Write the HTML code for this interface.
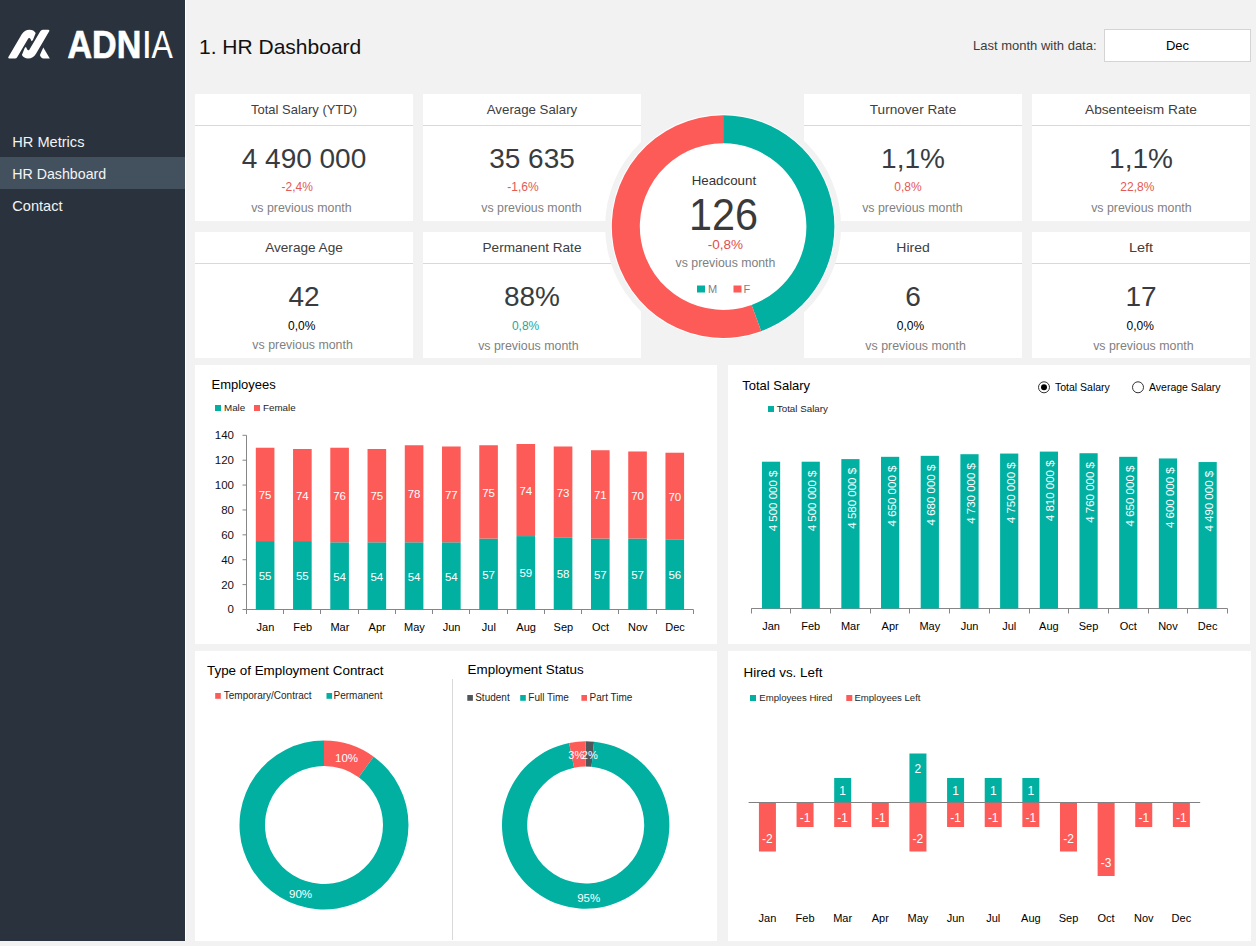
<!DOCTYPE html>
<html><head><meta charset="utf-8"><title>HR Dashboard</title>
<style>
html,body{margin:0;padding:0;background:#f2f2f2;}
body{width:1256px;height:946px;overflow:hidden;}
svg{display:block;font-family:'Liberation Sans', Arial, sans-serif;}
</style></head>
<body>
<svg width="1256" height="946" viewBox="0 0 1256 946">
<rect x="0.00" y="0.00" width="1256.00" height="946.00" fill="#f2f2f2" />
<rect x="0.00" y="0.00" width="185.00" height="941.00" fill="#2a333d" />
<rect x="185.00" y="0.00" width="1.00" height="941.00" fill="#ffffff" />
<rect x="0.00" y="157.00" width="185.00" height="32.00" fill="#43515f" />
<text x="12.30" y="146.80" font-size="14.6" fill="#f4f4f4" text-anchor="start" >HR Metrics</text>
<text x="12.30" y="179.20" font-size="14.2" fill="#f4f4f4" text-anchor="start" >HR Dashboard</text>
<text x="12.30" y="210.90" font-size="14.6" fill="#f4f4f4" text-anchor="start" >Contact</text>
<g fill="#ffffff"><path d="M9.2,58.5 Q7.6,58.4 8.4,57.0 L21.6,34.4 Q24.4,29.7 29.5,29.7 Q33.8,29.7 35.7,33.1 L33.1,39.6 Q32.7,41.0 31.6,41.2 L30.5,38.9 Q29.7,37.4 28.4,38.2 L17.3,57.0 Q16.5,58.5 14.8,58.5 Z"/><path d="M9.2,58.5 Q7.6,58.4 8.4,57.0 L21.6,34.4 Q24.4,29.7 29.5,29.7 Q33.8,29.7 35.7,33.1 L33.1,39.6 Q32.7,41.0 31.6,41.2 L30.5,38.9 Q29.7,37.4 28.4,38.2 L17.3,57.0 Q16.5,58.5 14.8,58.5 Z" transform="rotate(180 28.8 44.1)"/><path d="M43.3,47.6 L49.8,58.5 L43.6,58.5 Q40.9,58.3 39.9,55.0 Z"/></g>
<text x="0" y="0" font-size="38.5" fill="#ffffff" stroke="#ffffff" stroke-width="0.7" font-weight="bold" transform="translate(67.5,58) scale(0.885,1)">ADN</text>
<text x="0" y="0" font-size="38.5" fill="#ffffff" transform="translate(141.5,58)">I</text>
<text x="0" y="0" font-size="38.5" fill="#ffffff" transform="translate(151.5,58) scale(0.83,1)">A</text>
<text x="199.00" y="53.70" font-size="21" fill="#111111" text-anchor="start" >1. HR Dashboard</text>
<text x="973.00" y="50.00" font-size="13" fill="#3c3c3c" text-anchor="start" >Last month with data:</text>
<rect x="1104.50" y="29.50" width="146.00" height="32.00" fill="#ffffff" stroke="#d4d4d4" stroke-width="1"/>
<text x="1177.50" y="50.00" font-size="13" fill="#000000" text-anchor="middle" >Dec</text>
<rect x="195.00" y="94.00" width="218.00" height="127.00" fill="#ffffff" />
<line x1="195.00" y1="125.50" x2="413.00" y2="125.50" stroke="#d9d9d9" stroke-width="1"/>
<text x="304.00" y="114.00" font-size="13" fill="#404040" text-anchor="middle" textLength="106" lengthAdjust="spacingAndGlyphs" >Total Salary (YTD)</text>
<text x="304.00" y="167.80" font-size="28" fill="#383c40" text-anchor="middle" >4 490 000</text>
<text x="297.30" y="190.90" font-size="12" fill="#e35955" text-anchor="middle" >-2,4%</text>
<text x="301.40" y="212.30" font-size="12" fill="#7f7f7f" text-anchor="middle" textLength="100.5" lengthAdjust="spacingAndGlyphs" >vs previous month</text>
<rect x="423.00" y="94.00" width="218.00" height="127.00" fill="#ffffff" />
<line x1="423.00" y1="125.50" x2="641.00" y2="125.50" stroke="#d9d9d9" stroke-width="1"/>
<text x="532.00" y="114.00" font-size="13" fill="#404040" text-anchor="middle" textLength="90.5" lengthAdjust="spacingAndGlyphs" >Average Salary</text>
<text x="532.00" y="167.80" font-size="28" fill="#383c40" text-anchor="middle" >35 635</text>
<text x="523.00" y="190.90" font-size="12" fill="#e35955" text-anchor="middle" >-1,6%</text>
<text x="531.50" y="212.30" font-size="12" fill="#7f7f7f" text-anchor="middle" textLength="100.5" lengthAdjust="spacingAndGlyphs" >vs previous month</text>
<rect x="804.00" y="94.00" width="218.00" height="127.00" fill="#ffffff" />
<line x1="804.00" y1="125.50" x2="1022.00" y2="125.50" stroke="#d9d9d9" stroke-width="1"/>
<text x="913.00" y="114.00" font-size="13" fill="#404040" text-anchor="middle" textLength="86.4" lengthAdjust="spacingAndGlyphs" >Turnover Rate</text>
<text x="913.00" y="167.80" font-size="28" fill="#383c40" text-anchor="middle" >1,1%</text>
<text x="908.00" y="190.90" font-size="12" fill="#e35955" text-anchor="middle" >0,8%</text>
<text x="912.40" y="212.30" font-size="12" fill="#7f7f7f" text-anchor="middle" textLength="100.5" lengthAdjust="spacingAndGlyphs" >vs previous month</text>
<rect x="1032.00" y="94.00" width="218.00" height="127.00" fill="#ffffff" />
<line x1="1032.00" y1="125.50" x2="1250.00" y2="125.50" stroke="#d9d9d9" stroke-width="1"/>
<text x="1141.00" y="114.00" font-size="13" fill="#404040" text-anchor="middle" textLength="112" lengthAdjust="spacingAndGlyphs" >Absenteeism Rate</text>
<text x="1141.00" y="167.80" font-size="28" fill="#383c40" text-anchor="middle" >1,1%</text>
<text x="1137.30" y="190.90" font-size="12" fill="#e35955" text-anchor="middle" >22,8%</text>
<text x="1141.40" y="212.30" font-size="12" fill="#7f7f7f" text-anchor="middle" textLength="100.5" lengthAdjust="spacingAndGlyphs" >vs previous month</text>
<rect x="195.00" y="232.00" width="218.00" height="126.00" fill="#ffffff" />
<line x1="195.00" y1="263.50" x2="413.00" y2="263.50" stroke="#d9d9d9" stroke-width="1"/>
<text x="304.00" y="252.00" font-size="13" fill="#404040" text-anchor="middle" textLength="77.6" lengthAdjust="spacingAndGlyphs" >Average Age</text>
<text x="304.00" y="305.80" font-size="28" fill="#383c40" text-anchor="middle" >42</text>
<text x="301.70" y="330.00" font-size="12" fill="#000000" text-anchor="middle" >0,0%</text>
<text x="302.60" y="349.30" font-size="12" fill="#7f7f7f" text-anchor="middle" textLength="100.5" lengthAdjust="spacingAndGlyphs" >vs previous month</text>
<rect x="423.00" y="232.00" width="218.00" height="126.00" fill="#ffffff" />
<line x1="423.00" y1="263.50" x2="641.00" y2="263.50" stroke="#d9d9d9" stroke-width="1"/>
<text x="532.00" y="252.00" font-size="13" fill="#404040" text-anchor="middle" textLength="98.9" lengthAdjust="spacingAndGlyphs" >Permanent Rate</text>
<text x="532.00" y="305.80" font-size="28" fill="#383c40" text-anchor="middle" >88%</text>
<text x="525.60" y="330.00" font-size="12" fill="#1aa99b" text-anchor="middle" >0,8%</text>
<text x="528.40" y="350.30" font-size="12" fill="#7f7f7f" text-anchor="middle" textLength="100.5" lengthAdjust="spacingAndGlyphs" >vs previous month</text>
<rect x="804.00" y="232.00" width="218.00" height="126.00" fill="#ffffff" />
<line x1="804.00" y1="263.50" x2="1022.00" y2="263.50" stroke="#d9d9d9" stroke-width="1"/>
<text x="913.00" y="252.00" font-size="13" fill="#404040" text-anchor="middle" textLength="33.4" lengthAdjust="spacingAndGlyphs" >Hired</text>
<text x="913.00" y="305.80" font-size="28" fill="#383c40" text-anchor="middle" >6</text>
<text x="910.40" y="330.00" font-size="12" fill="#000000" text-anchor="middle" >0,0%</text>
<text x="915.60" y="350.30" font-size="12" fill="#7f7f7f" text-anchor="middle" textLength="100.5" lengthAdjust="spacingAndGlyphs" >vs previous month</text>
<rect x="1032.00" y="232.00" width="218.00" height="126.00" fill="#ffffff" />
<line x1="1032.00" y1="263.50" x2="1250.00" y2="263.50" stroke="#d9d9d9" stroke-width="1"/>
<text x="1141.00" y="252.00" font-size="13" fill="#404040" text-anchor="middle" textLength="24.1" lengthAdjust="spacingAndGlyphs" >Left</text>
<text x="1141.00" y="305.80" font-size="28" fill="#383c40" text-anchor="middle" >17</text>
<text x="1140.30" y="330.00" font-size="12" fill="#000000" text-anchor="middle" >0,0%</text>
<text x="1143.40" y="350.30" font-size="12" fill="#7f7f7f" text-anchor="middle" textLength="100.5" lengthAdjust="spacingAndGlyphs" >vs previous month</text>
<circle cx="723.1" cy="226.6" r="118" fill="#f2f2f2"/>
<circle cx="723.1" cy="226.6" r="112.3" fill="#ffffff"/>
<path d="M723.10,115.30 A111.3,111.3 0 0 1 761.17,331.19 L751.59,304.88 A83.3,83.3 0 0 0 723.10,143.30 Z" fill="#02b0a2" stroke="none" stroke-width="1"/>
<path d="M761.17,331.19 A111.3,111.3 0 1 1 723.10,115.30 L723.10,143.30 A83.3,83.3 0 1 0 751.59,304.88 Z" fill="#fc5b57" stroke="none" stroke-width="1"/>
<text x="723.90" y="185.00" font-size="13.3" fill="#333333" text-anchor="middle" textLength="64.5" lengthAdjust="spacingAndGlyphs" >Headcount</text>
<text x="723.60" y="230.00" font-size="43.5" fill="#3a3a3a" text-anchor="middle" textLength="69" lengthAdjust="spacingAndGlyphs" >126</text>
<text x="725.50" y="248.50" font-size="13.5" fill="#e0504c" text-anchor="middle" >-0,8%</text>
<text x="725.50" y="267.00" font-size="12.3" fill="#7f7f7f" text-anchor="middle" >vs previous month</text>
<rect x="697.00" y="285.50" width="8.00" height="7.00" fill="#02b0a2" />
<text x="708.00" y="293.00" font-size="11" fill="#7f7f7f" text-anchor="start" >M</text>
<rect x="733.50" y="285.50" width="8.00" height="7.00" fill="#fc5b57" />
<text x="743.50" y="293.00" font-size="11" fill="#7f7f7f" text-anchor="start" >F</text>
<rect x="195.00" y="365.00" width="522.00" height="279.00" fill="#ffffff" />
<text x="211.50" y="389.00" font-size="13" fill="#000000" text-anchor="start" >Employees</text>
<rect x="215.00" y="405.00" width="6.00" height="6.00" fill="#02b0a2" />
<text x="224.00" y="411.20" font-size="9.8" fill="#262626" text-anchor="start" >Male</text>
<rect x="254.00" y="405.00" width="6.00" height="6.00" fill="#fc5b57" />
<text x="263.00" y="411.20" font-size="9.8" fill="#262626" text-anchor="start" >Female</text>
<line x1="242.50" y1="609.50" x2="246.50" y2="609.50" stroke="#868686" stroke-width="1"/>
<text x="234.00" y="613.40" font-size="11.5" fill="#111111" text-anchor="end" >0</text>
<line x1="242.50" y1="584.61" x2="246.50" y2="584.61" stroke="#868686" stroke-width="1"/>
<text x="234.00" y="588.51" font-size="11.5" fill="#111111" text-anchor="end" >20</text>
<line x1="242.50" y1="559.73" x2="246.50" y2="559.73" stroke="#868686" stroke-width="1"/>
<text x="234.00" y="563.63" font-size="11.5" fill="#111111" text-anchor="end" >40</text>
<line x1="242.50" y1="534.84" x2="246.50" y2="534.84" stroke="#868686" stroke-width="1"/>
<text x="234.00" y="538.74" font-size="11.5" fill="#111111" text-anchor="end" >60</text>
<line x1="242.50" y1="509.96" x2="246.50" y2="509.96" stroke="#868686" stroke-width="1"/>
<text x="234.00" y="513.86" font-size="11.5" fill="#111111" text-anchor="end" >80</text>
<line x1="242.50" y1="485.07" x2="246.50" y2="485.07" stroke="#868686" stroke-width="1"/>
<text x="234.00" y="488.97" font-size="11.5" fill="#111111" text-anchor="end" >100</text>
<line x1="242.50" y1="460.19" x2="246.50" y2="460.19" stroke="#868686" stroke-width="1"/>
<text x="234.00" y="464.09" font-size="11.5" fill="#111111" text-anchor="end" >120</text>
<line x1="242.50" y1="435.30" x2="246.50" y2="435.30" stroke="#868686" stroke-width="1"/>
<text x="234.00" y="439.20" font-size="11.5" fill="#111111" text-anchor="end" >140</text>
<line x1="246.50" y1="435.30" x2="246.50" y2="609.50" stroke="#868686" stroke-width="1"/>
<line x1="246.50" y1="609.50" x2="693.40" y2="609.50" stroke="#868686" stroke-width="1"/>
<line x1="246.50" y1="609.50" x2="246.50" y2="614.00" stroke="#868686" stroke-width="1"/>
<line x1="283.50" y1="609.50" x2="283.50" y2="614.00" stroke="#868686" stroke-width="1"/>
<line x1="320.50" y1="609.50" x2="320.50" y2="614.00" stroke="#868686" stroke-width="1"/>
<line x1="358.50" y1="609.50" x2="358.50" y2="614.00" stroke="#868686" stroke-width="1"/>
<line x1="395.50" y1="609.50" x2="395.50" y2="614.00" stroke="#868686" stroke-width="1"/>
<line x1="432.50" y1="609.50" x2="432.50" y2="614.00" stroke="#868686" stroke-width="1"/>
<line x1="469.50" y1="609.50" x2="469.50" y2="614.00" stroke="#868686" stroke-width="1"/>
<line x1="507.50" y1="609.50" x2="507.50" y2="614.00" stroke="#868686" stroke-width="1"/>
<line x1="544.50" y1="609.50" x2="544.50" y2="614.00" stroke="#868686" stroke-width="1"/>
<line x1="581.50" y1="609.50" x2="581.50" y2="614.00" stroke="#868686" stroke-width="1"/>
<line x1="618.50" y1="609.50" x2="618.50" y2="614.00" stroke="#868686" stroke-width="1"/>
<line x1="656.50" y1="609.50" x2="656.50" y2="614.00" stroke="#868686" stroke-width="1"/>
<line x1="693.50" y1="609.50" x2="693.50" y2="614.00" stroke="#868686" stroke-width="1"/>
<rect x="255.81" y="541.06" width="18.62" height="68.44" fill="#02b0a2" />
<rect x="255.81" y="447.74" width="18.62" height="93.32" fill="#fc5b57" />
<text x="265.12" y="579.88" font-size="11.5" fill="#ffffff" text-anchor="middle" >55</text>
<text x="265.12" y="499.00" font-size="11.5" fill="#ffffff" text-anchor="middle" >75</text>
<text x="265.42" y="630.70" font-size="11" fill="#000000" text-anchor="middle" >Jan</text>
<rect x="293.05" y="541.06" width="18.62" height="68.44" fill="#02b0a2" />
<rect x="293.05" y="448.99" width="18.62" height="92.08" fill="#fc5b57" />
<text x="302.36" y="579.88" font-size="11.5" fill="#ffffff" text-anchor="middle" >55</text>
<text x="302.36" y="499.63" font-size="11.5" fill="#ffffff" text-anchor="middle" >74</text>
<text x="302.66" y="630.70" font-size="11" fill="#000000" text-anchor="middle" >Feb</text>
<rect x="330.29" y="542.31" width="18.62" height="67.19" fill="#02b0a2" />
<rect x="330.29" y="447.74" width="18.62" height="94.57" fill="#fc5b57" />
<text x="339.60" y="580.50" font-size="11.5" fill="#ffffff" text-anchor="middle" >54</text>
<text x="339.60" y="499.63" font-size="11.5" fill="#ffffff" text-anchor="middle" >76</text>
<text x="339.90" y="630.70" font-size="11" fill="#000000" text-anchor="middle" >Mar</text>
<rect x="367.54" y="542.31" width="18.62" height="67.19" fill="#02b0a2" />
<rect x="367.54" y="448.99" width="18.62" height="93.32" fill="#fc5b57" />
<text x="376.85" y="580.50" font-size="11.5" fill="#ffffff" text-anchor="middle" >54</text>
<text x="376.85" y="500.25" font-size="11.5" fill="#ffffff" text-anchor="middle" >75</text>
<text x="377.15" y="630.70" font-size="11" fill="#000000" text-anchor="middle" >Apr</text>
<rect x="404.78" y="542.31" width="18.62" height="67.19" fill="#02b0a2" />
<rect x="404.78" y="445.25" width="18.62" height="97.05" fill="#fc5b57" />
<text x="414.09" y="580.50" font-size="11.5" fill="#ffffff" text-anchor="middle" >54</text>
<text x="414.09" y="498.38" font-size="11.5" fill="#ffffff" text-anchor="middle" >78</text>
<text x="414.39" y="630.70" font-size="11" fill="#000000" text-anchor="middle" >May</text>
<rect x="442.02" y="542.31" width="18.62" height="67.19" fill="#02b0a2" />
<rect x="442.02" y="446.50" width="18.62" height="95.81" fill="#fc5b57" />
<text x="451.33" y="580.50" font-size="11.5" fill="#ffffff" text-anchor="middle" >54</text>
<text x="451.33" y="499.00" font-size="11.5" fill="#ffffff" text-anchor="middle" >77</text>
<text x="451.63" y="630.70" font-size="11" fill="#000000" text-anchor="middle" >Jun</text>
<rect x="479.26" y="538.58" width="18.62" height="70.92" fill="#02b0a2" />
<rect x="479.26" y="445.25" width="18.62" height="93.32" fill="#fc5b57" />
<text x="488.57" y="578.64" font-size="11.5" fill="#ffffff" text-anchor="middle" >57</text>
<text x="488.57" y="496.52" font-size="11.5" fill="#ffffff" text-anchor="middle" >75</text>
<text x="488.87" y="630.70" font-size="11" fill="#000000" text-anchor="middle" >Jul</text>
<rect x="516.50" y="536.09" width="18.62" height="73.41" fill="#02b0a2" />
<rect x="516.50" y="444.01" width="18.62" height="92.08" fill="#fc5b57" />
<text x="525.81" y="577.39" font-size="11.5" fill="#ffffff" text-anchor="middle" >59</text>
<text x="525.81" y="494.65" font-size="11.5" fill="#ffffff" text-anchor="middle" >74</text>
<text x="526.11" y="630.70" font-size="11" fill="#000000" text-anchor="middle" >Aug</text>
<rect x="553.74" y="537.33" width="18.62" height="72.17" fill="#02b0a2" />
<rect x="553.74" y="446.50" width="18.62" height="90.83" fill="#fc5b57" />
<text x="563.05" y="578.02" font-size="11.5" fill="#ffffff" text-anchor="middle" >58</text>
<text x="563.05" y="496.51" font-size="11.5" fill="#ffffff" text-anchor="middle" >73</text>
<text x="563.35" y="630.70" font-size="11" fill="#000000" text-anchor="middle" >Sep</text>
<rect x="590.99" y="538.58" width="18.62" height="70.92" fill="#02b0a2" />
<rect x="590.99" y="450.23" width="18.62" height="88.34" fill="#fc5b57" />
<text x="600.30" y="578.64" font-size="11.5" fill="#ffffff" text-anchor="middle" >57</text>
<text x="600.30" y="499.00" font-size="11.5" fill="#ffffff" text-anchor="middle" >71</text>
<text x="600.60" y="630.70" font-size="11" fill="#000000" text-anchor="middle" >Oct</text>
<rect x="628.23" y="538.58" width="18.62" height="70.92" fill="#02b0a2" />
<rect x="628.23" y="451.48" width="18.62" height="87.10" fill="#fc5b57" />
<text x="637.54" y="578.64" font-size="11.5" fill="#ffffff" text-anchor="middle" >57</text>
<text x="637.54" y="499.63" font-size="11.5" fill="#ffffff" text-anchor="middle" >70</text>
<text x="637.84" y="630.70" font-size="11" fill="#000000" text-anchor="middle" >Nov</text>
<rect x="665.47" y="539.82" width="18.62" height="69.68" fill="#02b0a2" />
<rect x="665.47" y="452.72" width="18.62" height="87.10" fill="#fc5b57" />
<text x="674.78" y="579.26" font-size="11.5" fill="#ffffff" text-anchor="middle" >56</text>
<text x="674.78" y="500.87" font-size="11.5" fill="#ffffff" text-anchor="middle" >70</text>
<text x="675.08" y="630.70" font-size="11" fill="#000000" text-anchor="middle" >Dec</text>
<rect x="728.00" y="365.00" width="522.00" height="279.00" fill="#ffffff" />
<text x="742.20" y="390.00" font-size="13" fill="#000000" text-anchor="start" >Total Salary</text>
<circle cx="1044" cy="387.3" r="5.5" fill="#ffffff" stroke="#333" stroke-width="1"/>
<circle cx="1044" cy="387.3" r="3" fill="#000"/>
<text x="1055.00" y="391.00" font-size="10.5" fill="#000000" text-anchor="start" >Total Salary</text>
<circle cx="1138" cy="387.3" r="5.5" fill="#ffffff" stroke="#333" stroke-width="1"/>
<text x="1149.00" y="391.00" font-size="10.5" fill="#000000" text-anchor="start" >Average Salary</text>
<rect x="768.00" y="406.00" width="6.00" height="6.00" fill="#02b0a2" />
<text x="776.80" y="411.80" font-size="9.8" fill="#262626" text-anchor="start" >Total Salary</text>
<line x1="751.20" y1="608.50" x2="1227.50" y2="608.50" stroke="#868686" stroke-width="1"/>
<line x1="751.50" y1="608.50" x2="751.50" y2="613.50" stroke="#868686" stroke-width="1"/>
<line x1="790.50" y1="608.50" x2="790.50" y2="613.50" stroke="#868686" stroke-width="1"/>
<line x1="830.50" y1="608.50" x2="830.50" y2="613.50" stroke="#868686" stroke-width="1"/>
<line x1="870.50" y1="608.50" x2="870.50" y2="613.50" stroke="#868686" stroke-width="1"/>
<line x1="909.50" y1="608.50" x2="909.50" y2="613.50" stroke="#868686" stroke-width="1"/>
<line x1="949.50" y1="608.50" x2="949.50" y2="613.50" stroke="#868686" stroke-width="1"/>
<line x1="989.50" y1="608.50" x2="989.50" y2="613.50" stroke="#868686" stroke-width="1"/>
<line x1="1029.50" y1="608.50" x2="1029.50" y2="613.50" stroke="#868686" stroke-width="1"/>
<line x1="1068.50" y1="608.50" x2="1068.50" y2="613.50" stroke="#868686" stroke-width="1"/>
<line x1="1108.50" y1="608.50" x2="1108.50" y2="613.50" stroke="#868686" stroke-width="1"/>
<line x1="1148.50" y1="608.50" x2="1148.50" y2="613.50" stroke="#868686" stroke-width="1"/>
<line x1="1187.50" y1="608.50" x2="1187.50" y2="613.50" stroke="#868686" stroke-width="1"/>
<line x1="1227.50" y1="608.50" x2="1227.50" y2="613.50" stroke="#868686" stroke-width="1"/>
<rect x="761.95" y="461.71" width="18.20" height="146.79" fill="#02b0a2" />
<text x="0" y="0" font-size="11.5" fill="#ffffff" text-anchor="end" transform="translate(776.65,470.51) rotate(-90)">4 500 000 $</text>
<text x="771.05" y="629.90" font-size="11" fill="#000000" text-anchor="middle" >Jan</text>
<rect x="801.64" y="461.71" width="18.20" height="146.79" fill="#02b0a2" />
<text x="0" y="0" font-size="11.5" fill="#ffffff" text-anchor="end" transform="translate(816.34,470.51) rotate(-90)">4 500 000 $</text>
<text x="810.74" y="629.90" font-size="11" fill="#000000" text-anchor="middle" >Feb</text>
<rect x="841.33" y="459.10" width="18.20" height="149.40" fill="#02b0a2" />
<text x="0" y="0" font-size="11.5" fill="#ffffff" text-anchor="end" transform="translate(856.03,467.90) rotate(-90)">4 580 000 $</text>
<text x="850.43" y="629.90" font-size="11" fill="#000000" text-anchor="middle" >Mar</text>
<rect x="881.02" y="456.82" width="18.20" height="151.68" fill="#02b0a2" />
<text x="0" y="0" font-size="11.5" fill="#ffffff" text-anchor="end" transform="translate(895.72,465.62) rotate(-90)">4 650 000 $</text>
<text x="890.12" y="629.90" font-size="11" fill="#000000" text-anchor="middle" >Apr</text>
<rect x="920.71" y="455.84" width="18.20" height="152.66" fill="#02b0a2" />
<text x="0" y="0" font-size="11.5" fill="#ffffff" text-anchor="end" transform="translate(935.41,464.64) rotate(-90)">4 680 000 $</text>
<text x="929.81" y="629.90" font-size="11" fill="#000000" text-anchor="middle" >May</text>
<rect x="960.40" y="454.21" width="18.20" height="154.29" fill="#02b0a2" />
<text x="0" y="0" font-size="11.5" fill="#ffffff" text-anchor="end" transform="translate(975.10,463.01) rotate(-90)">4 730 000 $</text>
<text x="969.50" y="629.90" font-size="11" fill="#000000" text-anchor="middle" >Jun</text>
<rect x="1000.10" y="453.56" width="18.20" height="154.94" fill="#02b0a2" />
<text x="0" y="0" font-size="11.5" fill="#ffffff" text-anchor="end" transform="translate(1014.80,462.36) rotate(-90)">4 750 000 $</text>
<text x="1009.20" y="629.90" font-size="11" fill="#000000" text-anchor="middle" >Jul</text>
<rect x="1039.79" y="451.60" width="18.20" height="156.90" fill="#02b0a2" />
<text x="0" y="0" font-size="11.5" fill="#ffffff" text-anchor="end" transform="translate(1054.49,460.40) rotate(-90)">4 810 000 $</text>
<text x="1048.89" y="629.90" font-size="11" fill="#000000" text-anchor="middle" >Aug</text>
<rect x="1079.48" y="453.23" width="18.20" height="155.27" fill="#02b0a2" />
<text x="0" y="0" font-size="11.5" fill="#ffffff" text-anchor="end" transform="translate(1094.18,462.03) rotate(-90)">4 760 000 $</text>
<text x="1088.58" y="629.90" font-size="11" fill="#000000" text-anchor="middle" >Sep</text>
<rect x="1119.17" y="456.82" width="18.20" height="151.68" fill="#02b0a2" />
<text x="0" y="0" font-size="11.5" fill="#ffffff" text-anchor="end" transform="translate(1133.87,465.62) rotate(-90)">4 650 000 $</text>
<text x="1128.27" y="629.90" font-size="11" fill="#000000" text-anchor="middle" >Oct</text>
<rect x="1158.86" y="458.45" width="18.20" height="150.05" fill="#02b0a2" />
<text x="0" y="0" font-size="11.5" fill="#ffffff" text-anchor="end" transform="translate(1173.56,467.25) rotate(-90)">4 600 000 $</text>
<text x="1167.96" y="629.90" font-size="11" fill="#000000" text-anchor="middle" >Nov</text>
<rect x="1198.55" y="462.04" width="18.20" height="146.46" fill="#02b0a2" />
<text x="0" y="0" font-size="11.5" fill="#ffffff" text-anchor="end" transform="translate(1213.25,470.84) rotate(-90)">4 490 000 $</text>
<text x="1207.65" y="629.90" font-size="11" fill="#000000" text-anchor="middle" >Dec</text>
<rect x="195.00" y="651.00" width="522.00" height="290.00" fill="#ffffff" />
<line x1="452.50" y1="679.00" x2="452.50" y2="940.00" stroke="#d9d9d9" stroke-width="1"/>
<text x="207.00" y="675.40" font-size="13.4" fill="#000000" text-anchor="start" >Type of Employment Contract</text>
<rect x="215.20" y="693.00" width="5.60" height="5.80" fill="#fc5b57" />
<text x="223.80" y="699.30" font-size="10" fill="#262626" text-anchor="start" >Temporary/Contract</text>
<rect x="326.50" y="693.00" width="5.60" height="5.80" fill="#02b0a2" />
<text x="333.50" y="699.30" font-size="10" fill="#262626" text-anchor="start" >Permanent</text>
<text x="467.60" y="673.70" font-size="13.4" fill="#000000" text-anchor="start" >Employment Status</text>
<rect x="467.30" y="695.00" width="5.60" height="5.80" fill="#50575b" />
<text x="475.20" y="701.00" font-size="10" fill="#262626" text-anchor="start" >Student</text>
<rect x="520.20" y="695.00" width="5.60" height="5.80" fill="#02b0a2" />
<text x="528.30" y="701.00" font-size="10" fill="#262626" text-anchor="start" >Full Time</text>
<rect x="581.40" y="695.00" width="5.60" height="5.80" fill="#fc5b57" />
<text x="589.60" y="701.00" font-size="10" fill="#262626" text-anchor="start" >Part Time</text>
<path d="M324.00,740.50 A84.5,84.5 0 0 1 373.67,756.64 L358.68,777.27 A59,59 0 0 0 324.00,766.00 Z" fill="#fc5b57" stroke="none" stroke-width="1"/>
<path d="M373.67,756.64 A84.5,84.5 0 1 1 324.00,740.50 L324.00,766.00 A59,59 0 1 0 358.68,777.27 Z" fill="#02b0a2" stroke="none" stroke-width="1"/>
<text x="346.50" y="762.30" font-size="11.5" fill="#ffffff" text-anchor="middle" >10%</text>
<text x="300.50" y="898.30" font-size="11.5" fill="#ffffff" text-anchor="middle" >90%</text>
<path d="M585.70,741.30 A83.7,83.7 0 0 1 594.03,741.72 L591.52,766.79 A58.5,58.5 0 0 0 585.70,766.50 Z" fill="#50575b" stroke="none" stroke-width="1"/>
<path d="M594.03,741.72 A83.7,83.7 0 1 1 569.12,742.96 L574.11,767.66 A58.5,58.5 0 1 0 591.52,766.79 Z" fill="#02b0a2" stroke="none" stroke-width="1"/>
<path d="M569.12,742.96 A83.7,83.7 0 0 1 585.70,741.30 L585.70,766.50 A58.5,58.5 0 0 0 574.11,767.66 Z" fill="#fc5b57" stroke="none" stroke-width="1"/>
<text x="576.30" y="759.20" font-size="11" fill="#ffffff" text-anchor="middle" >3%</text>
<text x="589.80" y="759.20" font-size="11" fill="#ffffff" text-anchor="middle" >2%</text>
<text x="588.70" y="901.50" font-size="11.5" fill="#ffffff" text-anchor="middle" >95%</text>
<rect x="728.00" y="651.00" width="523.00" height="290.00" fill="#ffffff" />
<text x="743.50" y="677.00" font-size="13.4" fill="#000000" text-anchor="start" >Hired vs. Left</text>
<rect x="750.00" y="695.00" width="6.00" height="6.00" fill="#02b0a2" />
<text x="759.30" y="701.00" font-size="9.6" fill="#262626" text-anchor="start" >Employees Hired</text>
<rect x="846.30" y="695.00" width="6.00" height="6.00" fill="#fc5b57" />
<text x="854.40" y="701.00" font-size="9.6" fill="#262626" text-anchor="start" >Employees Left</text>
<rect x="758.92" y="802.50" width="17.00" height="49.00" fill="#fc5b57" />
<text x="767.42" y="842.50" font-size="12" fill="#ffffff" text-anchor="middle" >-2</text>
<text x="767.42" y="922.00" font-size="11" fill="#000000" text-anchor="middle" >Jan</text>
<rect x="796.55" y="802.50" width="17.00" height="24.50" fill="#fc5b57" />
<text x="805.05" y="822.30" font-size="12" fill="#ffffff" text-anchor="middle" >-1</text>
<text x="805.05" y="922.00" font-size="11" fill="#000000" text-anchor="middle" >Feb</text>
<rect x="834.18" y="778.00" width="17.00" height="24.50" fill="#02b0a2" />
<text x="842.68" y="794.55" font-size="12" fill="#ffffff" text-anchor="middle" >1</text>
<rect x="834.18" y="802.50" width="17.00" height="24.50" fill="#fc5b57" />
<text x="842.68" y="822.30" font-size="12" fill="#ffffff" text-anchor="middle" >-1</text>
<text x="842.68" y="922.00" font-size="11" fill="#000000" text-anchor="middle" >Mar</text>
<rect x="871.82" y="802.50" width="17.00" height="24.50" fill="#fc5b57" />
<text x="880.32" y="822.30" font-size="12" fill="#ffffff" text-anchor="middle" >-1</text>
<text x="880.32" y="922.00" font-size="11" fill="#000000" text-anchor="middle" >Apr</text>
<rect x="909.45" y="753.50" width="17.00" height="49.00" fill="#02b0a2" />
<text x="917.95" y="773.20" font-size="12" fill="#ffffff" text-anchor="middle" >2</text>
<rect x="909.45" y="802.50" width="17.00" height="49.00" fill="#fc5b57" />
<text x="917.95" y="842.50" font-size="12" fill="#ffffff" text-anchor="middle" >-2</text>
<text x="917.95" y="922.00" font-size="11" fill="#000000" text-anchor="middle" >May</text>
<rect x="947.08" y="778.00" width="17.00" height="24.50" fill="#02b0a2" />
<text x="955.58" y="794.55" font-size="12" fill="#ffffff" text-anchor="middle" >1</text>
<rect x="947.08" y="802.50" width="17.00" height="24.50" fill="#fc5b57" />
<text x="955.58" y="822.30" font-size="12" fill="#ffffff" text-anchor="middle" >-1</text>
<text x="955.58" y="922.00" font-size="11" fill="#000000" text-anchor="middle" >Jun</text>
<rect x="984.72" y="778.00" width="17.00" height="24.50" fill="#02b0a2" />
<text x="993.22" y="794.55" font-size="12" fill="#ffffff" text-anchor="middle" >1</text>
<rect x="984.72" y="802.50" width="17.00" height="24.50" fill="#fc5b57" />
<text x="993.22" y="822.30" font-size="12" fill="#ffffff" text-anchor="middle" >-1</text>
<text x="993.22" y="922.00" font-size="11" fill="#000000" text-anchor="middle" >Jul</text>
<rect x="1022.35" y="778.00" width="17.00" height="24.50" fill="#02b0a2" />
<text x="1030.85" y="794.55" font-size="12" fill="#ffffff" text-anchor="middle" >1</text>
<rect x="1022.35" y="802.50" width="17.00" height="24.50" fill="#fc5b57" />
<text x="1030.85" y="822.30" font-size="12" fill="#ffffff" text-anchor="middle" >-1</text>
<text x="1030.85" y="922.00" font-size="11" fill="#000000" text-anchor="middle" >Aug</text>
<rect x="1059.98" y="802.50" width="17.00" height="49.00" fill="#fc5b57" />
<text x="1068.48" y="842.50" font-size="12" fill="#ffffff" text-anchor="middle" >-2</text>
<text x="1068.48" y="922.00" font-size="11" fill="#000000" text-anchor="middle" >Sep</text>
<rect x="1097.62" y="802.50" width="17.00" height="73.50" fill="#fc5b57" />
<text x="1106.12" y="867.00" font-size="12" fill="#ffffff" text-anchor="middle" >-3</text>
<text x="1106.12" y="922.00" font-size="11" fill="#000000" text-anchor="middle" >Oct</text>
<rect x="1135.25" y="802.50" width="17.00" height="24.50" fill="#fc5b57" />
<text x="1143.75" y="822.30" font-size="12" fill="#ffffff" text-anchor="middle" >-1</text>
<text x="1143.75" y="922.00" font-size="11" fill="#000000" text-anchor="middle" >Nov</text>
<rect x="1172.88" y="802.50" width="17.00" height="24.50" fill="#fc5b57" />
<text x="1181.38" y="822.30" font-size="12" fill="#ffffff" text-anchor="middle" >-1</text>
<text x="1181.38" y="922.00" font-size="11" fill="#000000" text-anchor="middle" >Dec</text>
<line x1="748.60" y1="802.50" x2="1200.20" y2="802.50" stroke="#808080" stroke-width="1"/>
</svg>
</body></html>
